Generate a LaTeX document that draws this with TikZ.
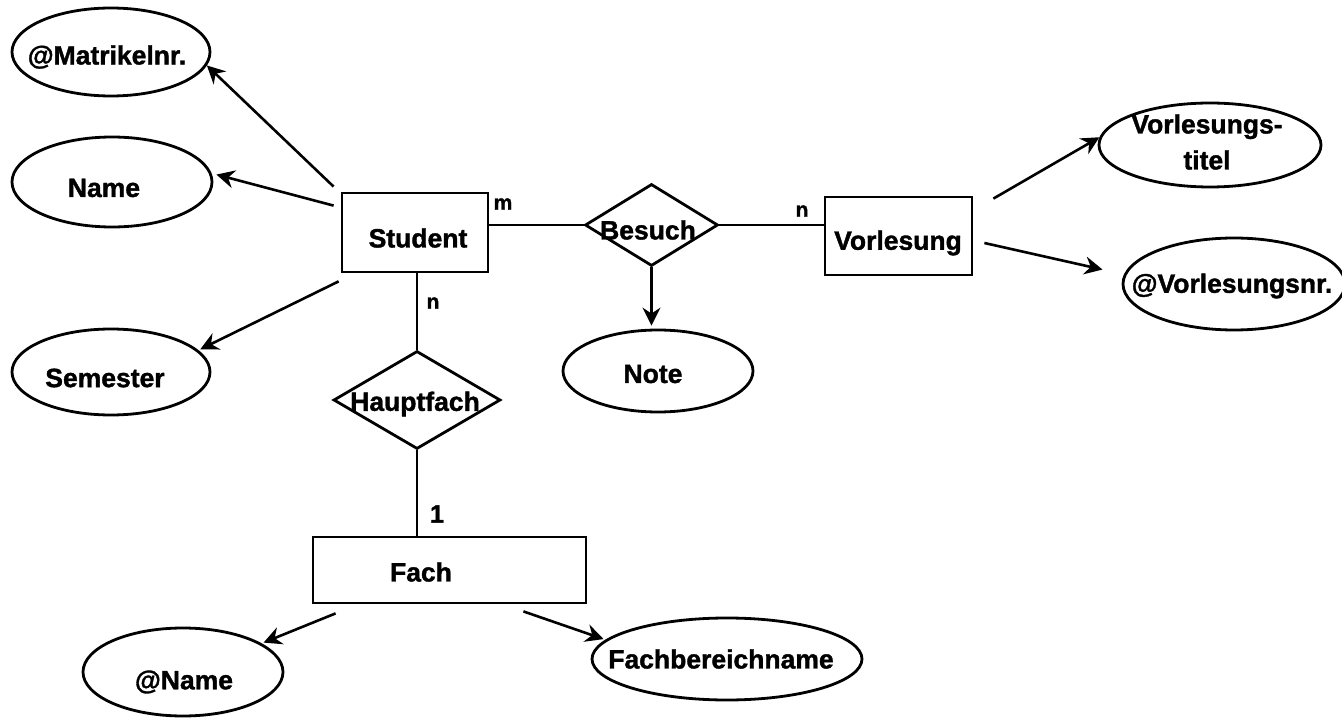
\documentclass[tikz,border=0pt]{standalone}
\usepackage{fontspec}
\setmainfont{Liberation Sans}
\newfontfamily\heavyfont{Liberation Sans Bold}[FakeBold=1.4]
\usetikzlibrary{shapes.geometric,arrows.meta}
\begin{document}
\begin{tikzpicture}[x=1pt,y=-1pt,
  lbl/.style={font=\heavyfont\fontsize{26.5}{36}\selectfont, inner sep=0pt, align=center},
  card/.style={font=\heavyfont\fontsize{21}{23}\selectfont, inner sep=0pt},
  entity/.style={draw, line width=2.8pt, rectangle, inner sep=0pt},
  attr/.style={draw, line width=2.8pt, ellipse, inner sep=0pt},
  rel/.style={draw, line width=2.8pt, diamond, inner sep=0pt},
  link/.style={line width=2.5pt},
  arr/.style={line width=2.6pt, -{Stealth[length=18pt,width=18pt,inset=6pt]}}]
\useasboundingbox (0,0) rectangle (1342,719);

% entities
\node[entity, minimum width=146, minimum height=79] (student) at (415,232.5) {};
\node[lbl] (student-t) at (418,238) {Student};
\node[entity, minimum width=147, minimum height=78] (vorl) at (898.5,236) {};
\node[lbl] (vorl-t) at (898,243) {Vorlesung};
\node[entity, minimum width=273, minimum height=66] (fach) at (449.5,570) {};
\node[lbl] (fach-t) at (421,572) {Fach};

% relationships
\node[rel, minimum width=133, minimum height=82] (besuch) at (651.5,225) {};
\node[lbl] (besuch-t) at (648,230) {Besuch};
\node[rel, minimum width=167, minimum height=98] (haupt) at (417,400) {};
\node[lbl] (haupt-t) at (415,404) {Hauptfach};

% attributes
\node[attr, minimum width=198, minimum height=88] (matr) at (111,52) {};
\node[lbl] (matr-t) at (107,57) {@Matrikelnr.};
\node[attr, minimum width=200, minimum height=90] (name) at (112,182) {};
\node[lbl] (name-t) at (104,188) {Name};
\node[attr, minimum width=198, minimum height=86] (sem) at (111,372) {};
\node[lbl] (sem-t) at (105,378) {Semester};
\node[attr, minimum width=190, minimum height=82] (note) at (658,371) {};
\node[lbl] (note-t) at (653,374) {Note};
\node[attr, minimum width=222, minimum height=84] (vtitel) at (1210,145) {};
\node[lbl] (vtitel-t) at (1207,142) {Vorlesungs-\\titel};
\node[attr, minimum width=222, minimum height=92] (vnr) at (1234,284) {};
\node[lbl] (vnr-t) at (1232,286) {@Vorlesungsnr.};
\node[attr, minimum width=200, minimum height=88] (aname) at (183,672) {};
\node[lbl] (aname-t) at (184,682) {@Name};
\node[attr, minimum width=270, minimum height=82] (fbn) at (727,659) {};
\node[lbl] (fbn-t) at (721,659) {Fachbereichname};

% relationship lines with cardinalities
\draw[link] (student.east |- besuch.west) -- (besuch.west);
\draw[link] (besuch.east) -- (vorl.west |- besuch.east);
\draw[link] (haupt.north |- student.south) -- (haupt.north);
\draw[link] (haupt.south) -- (haupt.south |- fach.north);
\node[card] (c-m) at (503,204) {m};
\node[card] (c-n1) at (802,211) {n};
\node[card] (c-n2) at (433,303) {n};
\node[card, font=\heavyfont\fontsize{25}{27}\selectfont] (c-1) at (437,514) {1};

% attribute arrows
\draw[arr] ([xshift=-7pt,yshift=5pt]student.north west) -- (matr.-8);
\draw[arr, shorten >=5pt] ([xshift=-7pt,yshift=-14pt]student.north west) -- (name.5);
\draw[arr, shorten >=2pt] ([xshift=-2pt,yshift=-8pt]student.south west) -- (sem.14);
\draw[arr, shorten >=3pt] (besuch.south) -- (besuch.south |- note.north);
\draw[arr] ([xshift=20pt,yshift=-3pt]vorl.north east) -- (vtitel.176);
\draw[arr, shorten >=22pt] ([xshift=11pt,yshift=-7pt]vorl.east) -- (vnr.175);
\draw[arr, shorten >=2pt] ([xshift=24pt,yshift=-9pt]fach.south west) -- (aname.20);
\draw[arr, shorten >=2pt] ([xshift=-64pt,yshift=-7pt]fach.south east) -- (fbn.171);
\end{tikzpicture}
\end{document}
